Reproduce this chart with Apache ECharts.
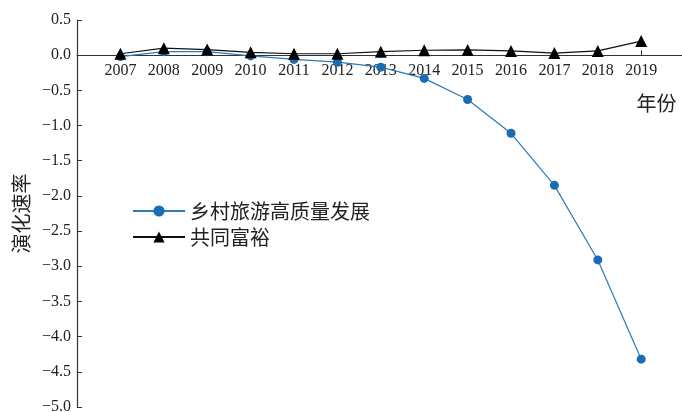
<!DOCTYPE html>
<html>
<head>
<meta charset="utf-8">
<script src="https://cdn.jsdelivr.net/npm/echarts@6/dist/echarts.min.js"></script>
<style>html,body{margin:0;padding:0;background:#fff}#c{width:682px;height:412px}</style>
</head>
<body>
<div id="c"></div>
<script>
const years = [2007,2008,2009,2010,2011,2012,2013,2014,2015,2016,2017,2018,2019];
const ruralTourism = [-0.02,0.05,0.05,-0.01,-0.06,-0.10,-0.17,-0.33,-0.63,-1.11,-1.85,-2.91,-4.32];
const commonProsperity = [0.02,0.10,0.08,0.04,0.02,0.02,0.05,0.07,0.075,0.06,0.03,0.06,0.20];
const seriesNames = ['乡村旅游高质量发展','共同富裕'];
const xName = '年份';
const yName = '演化速率';

const serif = "'Liberation Serif','Times New Roman','Noto Sans CJK SC',serif";
const cjk = "'Noto Sans CJK SC','Liberation Serif',sans-serif";

const gridTop = 20, gridBottom = 5, H = 412;
const yMin = -5, yMax = 0.5;
const plotH = H - gridTop - gridBottom;
const zeroOffset = -(plotH * (0 - yMin) / (yMax - yMin));

const chart = echarts.init(document.getElementById('c'));
chart.setOption({
  animation: false,
  backgroundColor: '#fff',
  grid: {left: 77, top: gridTop, width: 607.6, bottom: gridBottom, containLabel: false, outerBoundsMode: 'none'},
  legend: {
    orient: 'vertical', left: 127, top: 196, itemWidth: 52, itemHeight: 14, itemGap: 6,
    textStyle: {fontFamily: cjk, fontSize: 20, color: '#222'},
    data: seriesNames
  },
  xAxis: {
    type: 'value', min: 2006, max: 2020, interval: 1,
    offset: zeroOffset,
    name: xName, nameLocation: 'end', nameGap: -8,
    nameTextStyle: {fontFamily: cjk, fontSize: 20, color: '#222', align: 'right', verticalAlign: 'top', padding: [38, 0, 0, 0]},
    axisLine: {onZero: false, lineStyle: {color: '#333', width: 1}},
    axisTick: {inside: true, length: 5, lineStyle: {color: '#333'}},
    axisLabel: {
      fontFamily: serif, fontSize: 16, color: '#222', margin: 8,
      formatter: v => (v >= 2007 && v <= 2019) ? String(v) : ''
    },
    splitLine: {show: false}
  },
  yAxis: {
    type: 'value', min: yMin, max: yMax, interval: 0.5,
    name: yName, nameLocation: 'middle', nameGap: 46,
    nameTextStyle: {fontFamily: cjk, fontSize: 20, color: '#222'},
    axisLine: {show: true, lineStyle: {color: '#333', width: 1.2}},
    axisTick: {show: true, inside: true, length: 5, lineStyle: {color: '#333'}},
    axisLabel: {
      fontFamily: serif, fontSize: 16, color: '#222', margin: 6,
      formatter: v => v.toFixed(1).replace('-', '\u2212')
    },
    splitLine: {show: false}
  },
  series: [
    {
      name: seriesNames[0], type: 'line',
      data: years.map((y, i) => [y, ruralTourism[i]]),
      symbol: 'circle', symbolSize: 9,
      itemStyle: {color: '#1a6db3'},
      lineStyle: {color: '#2a7ab8', width: 1.2}
    },
    {
      name: seriesNames[1], type: 'line',
      data: years.map((y, i) => [y, commonProsperity[i]]),
      symbol: 'triangle', symbolSize: 12,
      itemStyle: {color: '#000'},
      lineStyle: {color: '#111', width: 1.2}
    }
  ]
});
</script>
</body>
</html>
